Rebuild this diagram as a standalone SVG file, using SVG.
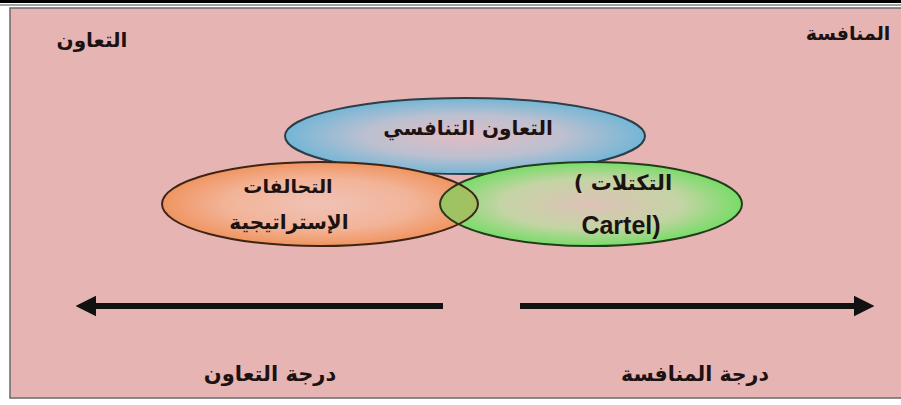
<svg xmlns="http://www.w3.org/2000/svg" width="901" height="405" viewBox="0 0 901 405">
<style>
.ar{font-family:"DejaVu Sans","Noto Sans",sans-serif;font-weight:bold;fill:#1c1212;text-anchor:middle}
.la{font-family:"Liberation Sans",Arial,sans-serif;font-weight:bold;fill:#1c1212;text-anchor:middle}
.conn{stroke:#111;stroke-width:6;fill:none}
</style>
<defs>
<radialGradient id="gBlue" cx="50%" cy="50%" r="50%">
<stop offset="0" stop-color="#E0BCC4"/>
<stop offset="0.55" stop-color="#BCC0D0"/>
<stop offset="1" stop-color="#74B6D6"/>
</radialGradient>
<radialGradient id="gOrange" cx="50%" cy="50%" r="50%">
<stop offset="0" stop-color="#F0C2B6"/>
<stop offset="0.6" stop-color="#F2B498"/>
<stop offset="1" stop-color="#F09460"/>
</radialGradient>
<radialGradient id="gGreen" cx="50%" cy="50%" r="50%">
<stop offset="0" stop-color="#DEC2B8"/>
<stop offset="0.6" stop-color="#C4D4A4"/>
<stop offset="1" stop-color="#78DC68"/>
</radialGradient>
<linearGradient id="gLens" x1="0" y1="0" x2="1" y2="0">
<stop offset="0" stop-color="#9CC462"/>
<stop offset="1" stop-color="#D4A462"/>
</linearGradient>
<clipPath id="cpOrange"><ellipse cx="320" cy="204" rx="158" ry="42"/></clipPath>
<marker id="ah" viewBox="0 0 10 10" refX="2" refY="5" markerWidth="3.4" markerHeight="3.6" orient="auto-start-reverse" markerUnits="strokeWidth">
<path d="M0,0 L10,5 L0,10 Z" fill="#111"/>
</marker>
</defs>
<rect x="0" y="0" width="901" height="405" fill="#ffffff"/>
<rect x="0" y="0" width="901" height="3" fill="#000"/>
<rect x="0" y="4.5" width="901" height="1" fill="#444"/>
<rect x="10" y="8" width="900" height="390" fill="#E6B4B3" stroke="#6a6a6a" stroke-width="1.5"/>

<g id="label-cooperation">
<text class="ar" x="92" y="47" font-size="20">التعاون</text>
</g>
<g id="label-competition">
<text class="ar" x="848" y="40" font-size="19">المنافسة</text>
</g>

<g id="node-coopetition">
<ellipse cx="465" cy="136" rx="180" ry="38" fill="url(#gBlue)" stroke="#2c3e48" stroke-width="2"/>
<text class="ar" x="468" y="135" font-size="20">التعاون التنافسي</text>
</g>

<g id="node-alliances">
<ellipse cx="320" cy="204" rx="158" ry="42" fill="url(#gOrange)"/>
</g>
<g id="node-cartels">
<ellipse cx="591" cy="204" rx="151" ry="42" fill="url(#gGreen)"/>
<ellipse cx="591" cy="204" rx="151" ry="42" fill="url(#gLens)" clip-path="url(#cpOrange)"/>
<ellipse cx="591" cy="204" rx="151" ry="42" fill="none" stroke="#243a1c" stroke-width="2"/>
<text class="ar" x="623" y="190" font-size="21" direction="rtl">التكتلات )</text>
<text class="la" x="621" y="234" font-size="25">Cartel)</text>
</g>
<g id="node-alliances-outline">
<ellipse cx="320" cy="204" rx="158" ry="42" fill="none" stroke="#3e2414" stroke-width="2"/>
<text class="ar" x="288" y="193" font-size="19">التحالفات</text>
<text class="ar" x="289" y="229" font-size="20">الإستراتيجية</text>
</g>

<g id="connectors">
<line class="conn" x1="443" y1="306" x2="92" y2="306" marker-end="url(#ah)"/>
<line class="conn" x1="520" y1="306" x2="858" y2="306" marker-end="url(#ah)"/>
</g>

<g id="label-degree-cooperation">
<text class="ar" x="270" y="381" font-size="21">درجة التعاون</text>
</g>
<g id="label-degree-competition">
<text class="ar" x="695" y="381" font-size="20.5">درجة المنافسة</text>
</g>
</svg>
